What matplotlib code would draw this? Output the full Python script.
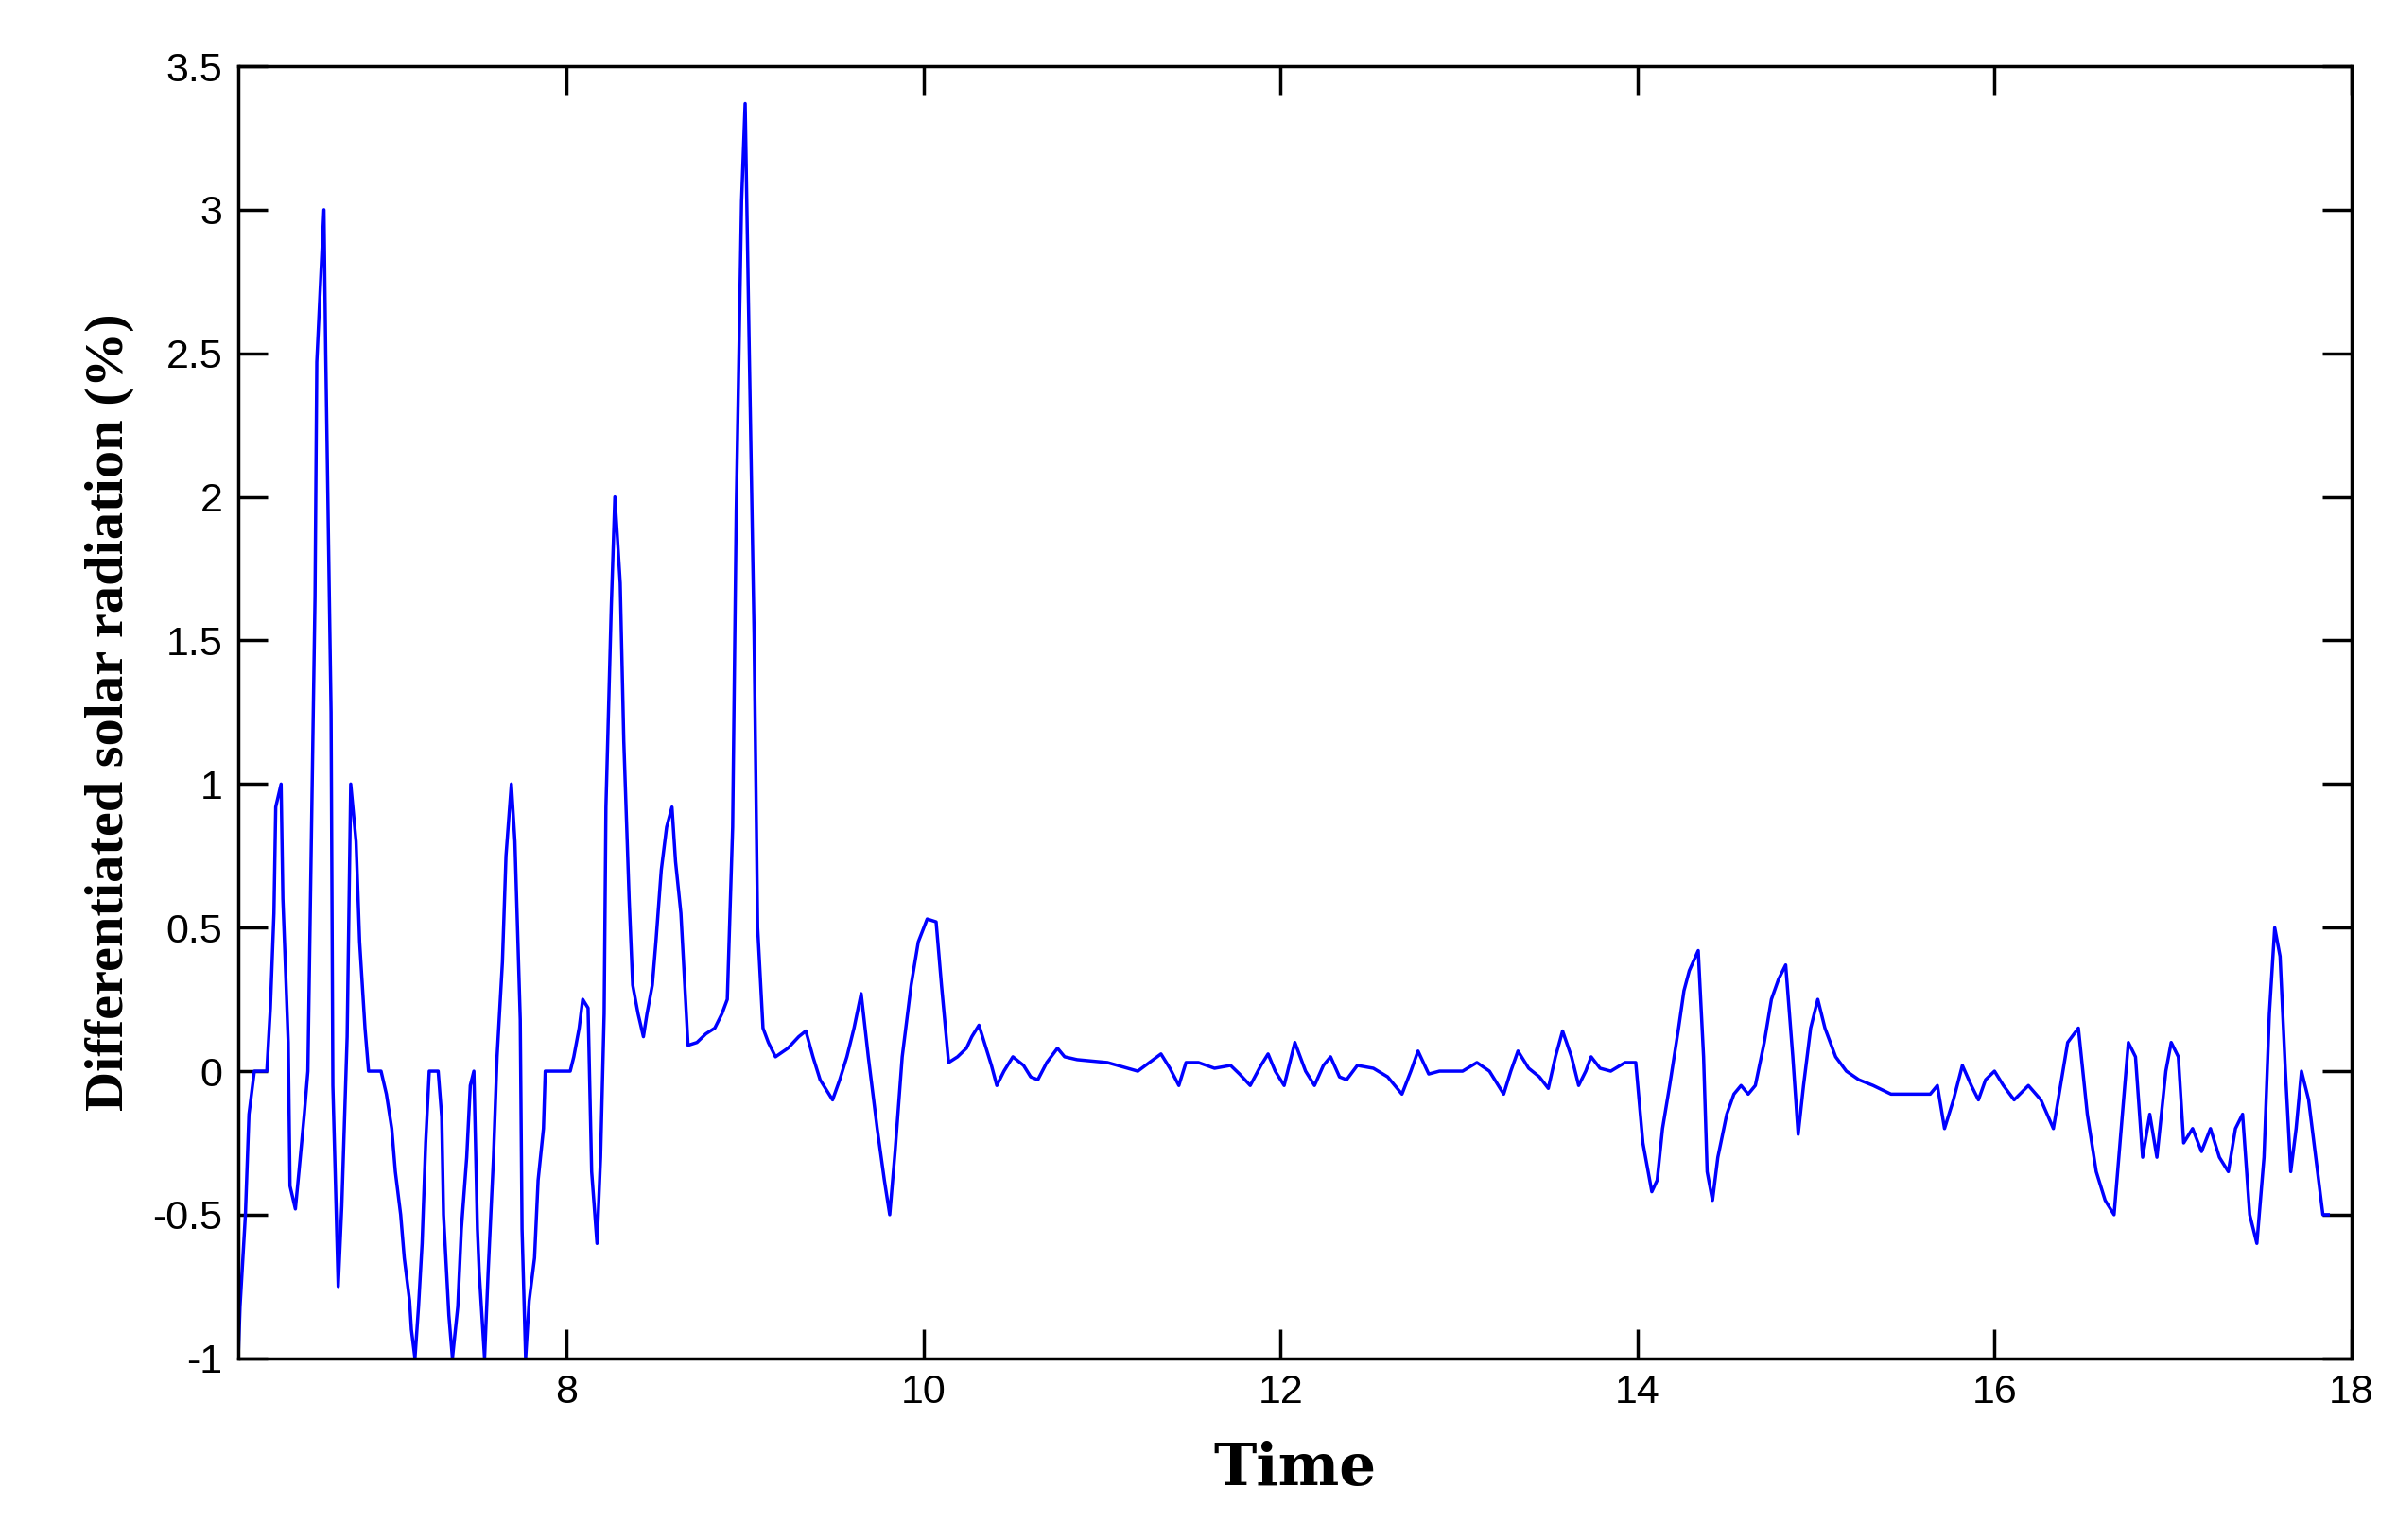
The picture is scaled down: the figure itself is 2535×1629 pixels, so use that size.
import matplotlib
matplotlib.use('Agg')
import matplotlib.pyplot as plt

# time (h) and differentiated solar radiation (%)
time = [6.16, 6.17, 6.2, 6.22, 6.25, 6.32, 6.34, 6.36, 6.37, 6.4, 6.41, 6.44, 6.45, 6.48, 6.5, 6.53,
        6.55, 6.57, 6.59, 6.6, 6.64, 6.65, 6.68, 6.69, 6.72, 6.74, 6.77, 6.79, 6.82, 6.84, 6.87, 6.89,
        6.96, 6.99, 7.02, 7.04, 7.07, 7.09, 7.12, 7.13, 7.15, 7.17, 7.19, 7.21, 7.23, 7.28, 7.3, 7.31,
        7.34, 7.36, 7.39, 7.41, 7.44, 7.46, 7.48, 7.5, 7.51, 7.54, 7.56, 7.59, 7.61, 7.64, 7.66, 7.69,
        7.71, 7.74, 7.75, 7.77, 7.79, 7.82, 7.84, 7.87, 7.88, 8.02, 8.04, 8.07, 8.09, 8.12, 8.14, 8.17,
        8.19, 8.21, 8.22, 8.25, 8.27, 8.3, 8.32, 8.35, 8.37, 8.4, 8.43, 8.45, 8.48, 8.5, 8.53, 8.56,
        8.59, 8.61, 8.64, 8.68, 8.73, 8.78, 8.83, 8.87, 8.9, 8.93, 8.95, 8.98, 9.0, 9.02, 9.05, 9.07,
        9.1, 9.13, 9.17, 9.24, 9.3, 9.34, 9.38, 9.42, 9.49, 9.53, 9.57, 9.61, 9.65, 9.69, 9.74, 9.78,
        9.81, 9.84, 9.88, 9.93, 9.97, 10.02, 10.07, 10.1, 10.14, 10.19, 10.24, 10.27, 10.31, 10.34, 10.38, 10.41,
        10.45, 10.5, 10.56, 10.6, 10.64, 10.69, 10.75, 10.79, 10.86, 11.03, 11.2, 11.33, 11.38, 11.43, 11.47, 11.54,
        11.63, 11.72, 11.77, 11.83, 11.89, 11.93, 11.97, 12.02, 12.08, 12.14, 12.19, 12.24, 12.28, 12.33, 12.37, 12.43,
        12.52, 12.6, 12.68, 12.73, 12.77, 12.83, 12.89, 13.02, 13.1, 13.17, 13.25, 13.29, 13.33, 13.39, 13.45, 13.5,
        13.54, 13.58, 13.63, 13.67, 13.71, 13.74, 13.79, 13.85, 13.93, 13.99, 14.03, 14.08, 14.11, 14.14, 14.18, 14.23,
        14.26, 14.29, 14.34, 14.37, 14.39, 14.42, 14.45, 14.5, 14.54, 14.58, 14.62, 14.66, 14.71, 14.75, 14.79, 14.83,
        14.87, 14.9, 14.93, 14.97, 15.01, 15.05, 15.11, 15.17, 15.24, 15.32, 15.42, 15.53, 15.64, 15.68, 15.72, 15.77,
        15.82, 15.87, 15.91, 15.95, 16.0, 16.05, 16.11, 16.19, 16.26, 16.33, 16.37, 16.41, 16.47, 16.52, 16.57, 16.62,
        16.67, 16.71, 16.75, 16.79, 16.83, 16.87, 16.91, 16.96, 16.99, 17.03, 17.06, 17.11, 17.16, 17.21, 17.26, 17.31,
        17.35, 17.39, 17.43, 17.47, 17.51, 17.54, 17.57, 17.6, 17.63, 17.66, 17.69, 17.72, 17.76, 17.8, 17.84, 17.87]
radiation = [-1.0, -0.82, -0.5, -0.15, 0.0, 0.0, 0.22, 0.55, 0.92, 1.0, 0.6, 0.1, -0.4, -0.48, -0.35, -0.15,
             0.0, 0.82, 1.65, 2.47, 3.0, 2.5, 1.25, -0.05, -0.75, -0.47, 0.12, 1.0, 0.8, 0.45, 0.15, 0.0,
             0.0, -0.08, -0.2, -0.35, -0.5, -0.65, -0.8, -0.9, -1.0, -0.82, -0.6, -0.25, 0.0, 0.0, -0.16, -0.5,
             -0.85, -1.0, -0.82, -0.55, -0.3, -0.05, 0.0, -0.55, -0.7, -1.0, -0.7, -0.3, 0.05, 0.38, 0.75, 1.0,
             0.8, 0.18, -0.55, -1.0, -0.8, -0.65, -0.38, -0.2, 0.0, 0.0, 0.05, 0.15, 0.25, 0.22, -0.35, -0.6,
             -0.3, 0.2, 0.92, 1.62, 2.0, 1.7, 1.15, 0.6, 0.3, 0.2, 0.12, 0.2, 0.3, 0.45, 0.7, 0.85,
             0.92, 0.73, 0.55, 0.09, 0.1, 0.13, 0.15, 0.2, 0.25, 0.85, 1.95, 3.03, 3.37, 2.62, 1.52, 0.5,
             0.15, 0.1, 0.05, 0.08, 0.12, 0.14, 0.05, -0.03, -0.1, -0.03, 0.05, 0.15, 0.27, 0.05, -0.2, -0.38,
             -0.5, -0.28, 0.05, 0.3, 0.45, 0.53, 0.52, 0.3, 0.03, 0.05, 0.08, 0.12, 0.16, 0.1, 0.02, -0.05,
             0.0, 0.05, 0.02, -0.02, -0.03, 0.03, 0.08, 0.05, 0.04, 0.03, 0.0, 0.06, 0.01, -0.05, 0.03, 0.03,
             0.01, 0.02, -0.01, -0.05, 0.02, 0.06, 0.0, -0.05, 0.1, 0.0, -0.05, 0.02, 0.05, -0.02, -0.03, 0.02,
             0.01, -0.02, -0.08, 0.0, 0.07, -0.01, 0.0, 0.0, 0.03, 0.0, -0.08, 0.0, 0.07, 0.01, -0.02, -0.06,
             0.05, 0.14, 0.05, -0.05, 0.0, 0.05, 0.01, 0.0, 0.03, 0.03, -0.25, -0.42, -0.38, -0.2, -0.05, 0.15,
             0.28, 0.35, 0.42, 0.05, -0.35, -0.45, -0.3, -0.15, -0.08, -0.05, -0.08, -0.05, 0.1, 0.25, 0.32, 0.37,
             0.05, -0.22, -0.05, 0.15, 0.25, 0.15, 0.05, 0.0, -0.03, -0.05, -0.08, -0.08, -0.08, -0.05, -0.2, -0.1,
             0.02, -0.05, -0.1, -0.03, 0.0, -0.05, -0.1, -0.05, -0.1, -0.2, -0.05, 0.1, 0.15, -0.15, -0.35, -0.45,
             -0.5, -0.2, 0.1, 0.05, -0.3, -0.15, -0.3, 0.0, 0.1, 0.05, -0.25, -0.2, -0.28, -0.2, -0.3, -0.35,
             -0.2, -0.15, -0.5, -0.6, -0.3, 0.2, 0.5, 0.4, 0.0, -0.35, -0.2, 0.0, -0.1, -0.3, -0.5, -0.5]

x_ticks = [8, 10, 12, 14, 16, 18]
y_ticks = [-1, -0.5, 0, 0.5, 1, 1.5, 2, 2.5, 3, 3.5]
y_tick_labels = ['-1', '-0.5', '0', '0.5', '1', '1.5', '2', '2.5', '3', '3.5']

fig = plt.figure(figsize=(25.35, 16.29), dpi=100)
ax = fig.add_axes([0.0994, 0.118, 0.8816, 0.839])

ax.plot(time, radiation, color='#0000ff', linewidth=2.5)

ax.set_xlim(6.16, 18)
ax.set_ylim(-1, 3.5)
ax.set_xticks(x_ticks)
ax.set_yticks(y_ticks)
ax.set_yticklabels(y_tick_labels)
ax.tick_params(direction='in', length=22, width=2.5, top=True, right=True,
               labelsize=31, pad=12)
for lab in ax.get_xticklabels() + ax.get_yticklabels():
    lab.set_fontfamily('Liberation Sans')
for sp in ax.spines.values():
    sp.set_linewidth(2.5)

ax.set_xlabel('Time', fontsize=44, fontweight='bold', family='DejaVu Serif', labelpad=22)
ax.set_ylabel('Differentiated solar radiation (%)', fontsize=42, fontweight='bold',
              family='Liberation Serif', labelpad=14)

fig.savefig('out.png', dpi=100)
